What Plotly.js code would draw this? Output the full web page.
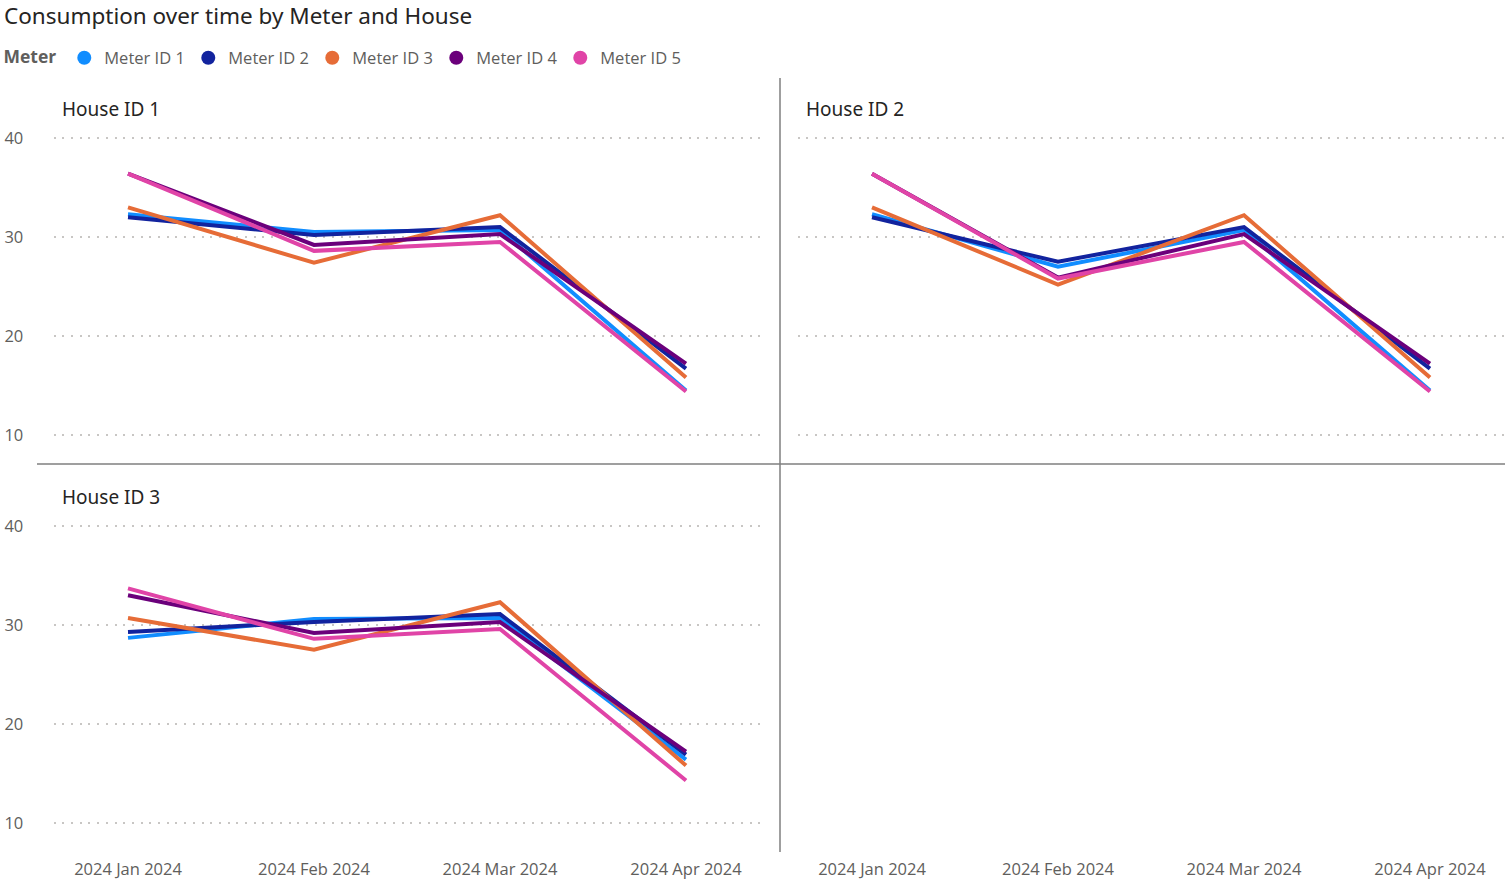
<!DOCTYPE html>
<html>
<head>
<meta charset="utf-8">
<script src="https://cdn.plot.ly/plotly-3.0.1.min.js"></script>
<style>html,body{margin:0;padding:0;background:#fff;}#chart{width:1505px;height:890px;}</style>
</head>
<body>
<div id="chart"></div>
<script>
const months = ['2024 Jan 2024', '2024 Feb 2024', '2024 Mar 2024', '2024 Apr 2024'];
const meters = ['Meter ID 1', 'Meter ID 2', 'Meter ID 3', 'Meter ID 4', 'Meter ID 5'];
const houses = ['House ID 1', 'House ID 2', 'House ID 3'];
const meterColors = ['#118DFF', '#12239E', '#E66C37', '#6B007B', '#E044A7'];

const house1 = [
  [32.3, 30.5, 30.7, 14.5],
  [32.0, 30.2, 31.0, 16.7],
  [33.0, 27.4, 32.2, 15.8],
  [36.4, 29.2, 30.3, 17.2],
  [36.4, 28.6, 29.5, 14.4]
];
const house2 = [
  [32.3, 27.0, 30.7, 14.5],
  [32.0, 27.5, 31.0, 16.7],
  [33.0, 25.2, 32.2, 15.8],
  [36.4, 25.9, 30.3, 17.2],
  [36.4, 25.8, 29.5, 14.4]
];
const house3 = [
  [28.7, 30.6, 30.7, 16.4],
  [29.3, 30.3, 31.1, 16.9],
  [30.7, 27.5, 32.3, 15.8],
  [33.0, 29.2, 30.3, 17.2],
  [33.7, 28.6, 29.6, 14.3]
];
const houseData = [house1, house2, house3];
const axisIds = [['x', 'y'], ['x2', 'y2'], ['x3', 'y3']];

const traces = [];
houseData.forEach((h, hi) => {
  h.forEach((vals, mi) => {
    traces.push({
      type: 'scatter', mode: 'lines',
      x: months, y: vals,
      xaxis: axisIds[hi][0], yaxis: axisIds[hi][1],
      name: meters[mi], legendgroup: meters[mi], showlegend: false,
      line: {color: meterColors[mi], width: 4},
      hoverinfo: 'skip'
    });
  });
});
// legend entries (circle markers) placed on the empty panel
meters.forEach((m, mi) => {
  traces.push({
    type: 'scatter', mode: 'markers',
    x: months, y: months.map(() => null),
    xaxis: 'x4', yaxis: 'y4',
    name: m, legendgroup: m, showlegend: true,
    marker: {color: meterColors[mi], size: 14, symbol: 'circle'}
  });
});

const W = 1505, H = 890;
const xdomL = [53.6 / W, 760.4 / W];
const xdomR = [797.6 / W, 1504.4 / W];
const ydomT = [(H - 444.9) / H, (H - 128.1) / H];
const ydomB = [(H - 832.9) / H, (H - 516.1) / H];

const tickFont = {family: 'Open Sans, sans-serif', size: 16.5, color: '#605E5C'};
function xax(dom, showLabels, anchor) {
  return {
    domain: dom, anchor: anchor, type: 'category', categoryarray: months, range: [-0.4, 3.4],
    showgrid: false, zeroline: false, showline: false,
    showticklabels: showLabels,
    ticks: showLabels ? 'outside' : '', ticklen: 21, tickcolor: 'rgba(0,0,0,0)',
    tickfont: tickFont, fixedrange: true
  };
}
function yax(dom, showLabels, anchor) {
  return {
    domain: dom, anchor: anchor, range: [9, 41], tickvals: [10, 20, 30, 40],
    showgrid: true, gridcolor: '#C8C6C4', griddash: '2px,6.7px', gridwidth: 1.3,
    zeroline: false, showline: false,
    showticklabels: showLabels,
    ticks: showLabels ? 'outside' : '', ticklen: 26, tickcolor: 'rgba(0,0,0,0)',
    tickfont: tickFont, fixedrange: true
  };
}

const annFont = {family: 'Noto Sans, sans-serif', size: 19, color: '#252423'};
const layout = {
  width: W, height: H,
  margin: {l: 0, r: 0, t: 0, b: 0},
  paper_bgcolor: '#fff', plot_bgcolor: 'rgba(0,0,0,0)',
  title: {
    text: 'Consumption over time by Meter and House',
    x: 4 / W, xanchor: 'left', y: (H - 16) / H, yanchor: 'middle',
    font: {family: 'Noto Sans, sans-serif', size: 22.5, color: '#252423'}
  },
  showlegend: true,
  legend: {
    orientation: 'h', x: 0.001, xanchor: 'left', y: (H - 58) / H, yanchor: 'middle',
    title: {text: '<b>Meter</b>', font: {family: 'Open Sans, sans-serif', size: 17.5, color: '#605E5C'}},
    font: {family: 'Open Sans, sans-serif', size: 16.5, color: '#605E5C'},
    itemwidth: 30, tracegroupgap: 0, bgcolor: 'rgba(0,0,0,0)',
    entrywidth: 79, entrywidthmode: 'pixels'
  },
  xaxis: xax(xdomL, false, 'y'), yaxis: yax(ydomT, true, 'x'),
  xaxis2: xax(xdomR, false, 'y2'), yaxis2: yax(ydomT, false, 'x2'),
  xaxis3: xax(xdomL, true, 'y3'), yaxis3: yax(ydomB, true, 'x3'),
  xaxis4: xax(xdomR, true, 'y4'),
  yaxis4: {domain: ydomB, anchor: 'x4', range: [9, 41], visible: false, showgrid: false, fixedrange: true},
  annotations: [
    {text: houses[0], xref: 'paper', yref: 'paper', x: 60 / W, y: (H - 109) / H, xanchor: 'left', yanchor: 'middle', showarrow: false, font: annFont},
    {text: houses[1], xref: 'paper', yref: 'paper', x: 804 / W, y: (H - 109) / H, xanchor: 'left', yanchor: 'middle', showarrow: false, font: annFont},
    {text: houses[2], xref: 'paper', yref: 'paper', x: 60 / W, y: (H - 497) / H, xanchor: 'left', yanchor: 'middle', showarrow: false, font: annFont}
  ],
  shapes: [
    {type: 'line', xref: 'paper', yref: 'paper', x0: 780 / W, x1: 780 / W, y0: (H - 852) / H, y1: (H - 78) / H, line: {color: '#7F7F7F', width: 1.5}},
    {type: 'line', xref: 'paper', yref: 'paper', x0: 37 / W, x1: 1, y0: (H - 464) / H, y1: (H - 464) / H, line: {color: '#7F7F7F', width: 1.5}}
  ]
};

Plotly.newPlot('chart', traces, layout, {displayModeBar: false, staticPlot: true});
</script>
</body>
</html>
